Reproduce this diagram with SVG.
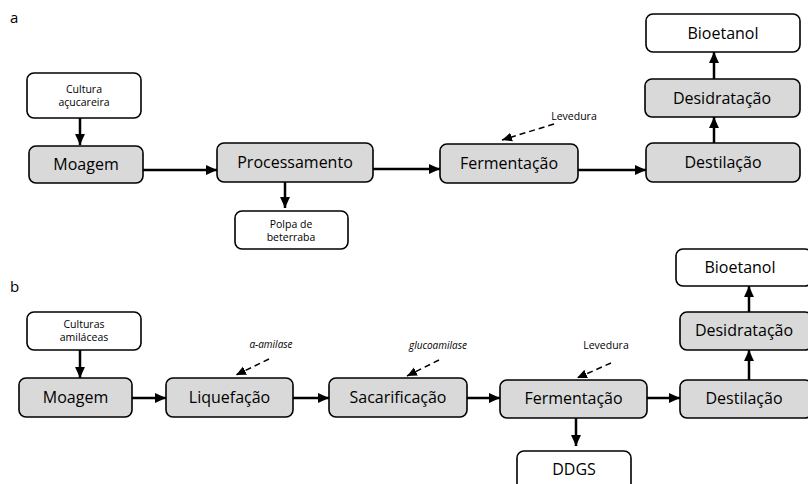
<svg xmlns="http://www.w3.org/2000/svg" width="808" height="484" viewBox="0 0 808 484">
<defs>
<style>
.bg{fill:#ffffff}
.box{fill:#ffffff;stroke:#000;stroke-width:1.6}
.gbox{fill:#d9d9d9;stroke:#000;stroke-width:1.6}
.t{font-family:"Open Sans","Liberation Sans",sans-serif;font-size:16px;fill:#000;text-anchor:middle}
.s{font-family:"Open Sans","Liberation Sans",sans-serif;font-size:10.5px;fill:#000;text-anchor:middle}
.i{font-family:"Open Sans","Liberation Sans",sans-serif;font-size:10px;font-style:italic;fill:#000;text-anchor:middle}
.lab{font-family:"Open Sans","Liberation Sans",sans-serif;font-size:15px;fill:#000}
.c{fill:none;stroke:#000;stroke-width:2.5;marker-end:url(#ah)}
.d{fill:none;stroke:#000;stroke-width:1.5;stroke-dasharray:6,4;marker-end:url(#dh)}
</style>
<marker id="ah" markerUnits="userSpaceOnUse" markerWidth="11" markerHeight="11" refX="10" refY="5" orient="auto" viewBox="0 0 10 10">
<path d="M0,0.5 L10,5 L0,9.5 z" fill="#000"/>
</marker>
<marker id="dh" markerUnits="userSpaceOnUse" markerWidth="10" markerHeight="10" refX="10" refY="5" orient="auto" viewBox="0 0 10 10">
<path d="M0,0.5 L10,5 L0,9.5 z" fill="#000"/>
</marker>
</defs>
<rect class="bg" x="0" y="0" width="808" height="484"/>
<text class="lab" x="10" y="23">a</text>
<text class="lab" x="10" y="292">b</text>

<g id="connectors">
<path class="c" d="M80,118 L80,145"/>
<path class="c" d="M143,170 L217,170"/>
<path class="c" d="M373,169 L440,169"/>
<path class="c" d="M285,182 L285,208"/>
<path class="c" d="M578,170 L646,170"/>
<path class="c" d="M714,143 L714,117"/>
<path class="c" d="M714,79 L714,52"/>
<path class="d" d="M554,124 L502,140"/>
<path class="c" d="M80,350 L80,378"/>
<path class="c" d="M132,398 L166,398"/>
<path class="c" d="M293,398 L329,398"/>
<path class="c" d="M467,398 L500,398"/>
<path class="c" d="M647,398 L680,398"/>
<path class="c" d="M576,418 L576,446"/>
<path class="c" d="M749,380 L749,350"/>
<path class="c" d="M749,312 L749,286"/>
<path class="d" d="M269,359 L236,375"/>
<path class="d" d="M439,360 L407,376"/>
<path class="d" d="M611,363 L577,378"/>
</g>

<g id="cultura-a"><rect class="box" x="27" y="73" width="114" height="45" rx="7"/><text class="s" x="84" y="93">Cultura</text><text class="s" x="84" y="106">açucareira</text></g>
<g id="moagem-a"><rect class="gbox" x="29" y="146" width="114" height="37" rx="7"/><text class="t" x="86" y="170">Moagem</text></g>
<g id="processamento-a"><rect class="gbox" x="217" y="143" width="156" height="39" rx="7"/><text class="t" x="295" y="168">Processamento</text></g>
<g id="polpa-a"><rect class="box" x="235" y="211" width="113" height="38" rx="7"/><text class="s" x="291" y="228">Polpa de</text><text class="s" x="291" y="241">beterraba</text></g>
<g id="levedura-a"><text class="s" x="574" y="120">Levedura</text></g>
<g id="fermentacao-a"><rect class="gbox" x="440" y="144" width="138" height="39" rx="7"/><text class="t" x="509" y="169">Fermentação</text></g>
<g id="destilacao-a"><rect class="gbox" x="646" y="143" width="154" height="39" rx="7"/><text class="t" x="723" y="168">Destilação</text></g>
<g id="desidratacao-a"><rect class="gbox" x="645" y="79" width="155" height="38" rx="7"/><text class="t" x="722" y="104">Desidratação</text></g>
<g id="bioetanol-a"><rect class="box" x="646" y="14" width="154" height="38" rx="7"/><text class="t" x="723" y="39">Bioetanol</text></g>

<g id="culturas-b"><rect class="box" x="27" y="312" width="114" height="38" rx="7"/><text class="s" x="84" y="328">Culturas</text><text class="s" x="84" y="341">amiláceas</text></g>
<g id="moagem-b"><rect class="gbox" x="19" y="378" width="113" height="39" rx="7"/><text class="t" x="75.5" y="403">Moagem</text></g>
<g id="alfa-amilase-b"><text class="i" x="271" y="348">α-amilase</text></g>
<g id="liquefacao-b"><rect class="gbox" x="166" y="378" width="127" height="39" rx="7"/><text class="t" x="229.5" y="403">Liquefação</text></g>
<g id="glucoamilase-b"><text class="i" x="438" y="349">glucoamilase</text></g>
<g id="sacarificacao-b"><rect class="gbox" x="329" y="378" width="138" height="39" rx="7"/><text class="t" x="398" y="403">Sacarificação</text></g>
<g id="levedura-b"><text class="s" x="606" y="349">Levedura</text></g>
<g id="fermentacao-b"><rect class="gbox" x="500" y="380" width="147" height="38" rx="7"/><text class="t" x="573.5" y="404">Fermentação</text></g>
<g id="ddgs-b"><rect class="box" x="517" y="451" width="114" height="40" rx="7"/><text class="t" x="574" y="475">DDGS</text></g>
<g id="destilacao-b"><rect class="gbox" x="680" y="380" width="132" height="38" rx="7"/><text class="t" x="744" y="404">Destilação</text></g>
<g id="desidratacao-b"><rect class="gbox" x="680" y="312" width="132" height="38" rx="7"/><text class="t" x="744" y="336">Desidratação</text></g>
<g id="bioetanol-b"><rect class="box" x="676" y="249" width="136" height="37" rx="7"/><text class="t" x="740" y="273">Bioetanol</text></g>
</svg>
